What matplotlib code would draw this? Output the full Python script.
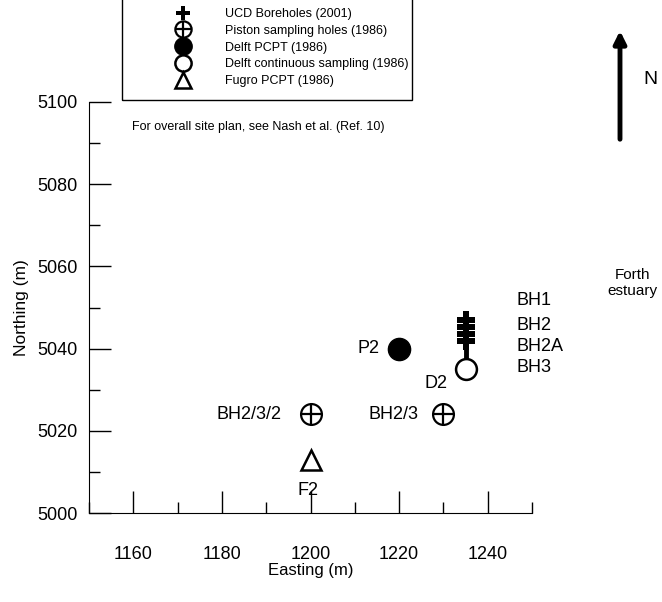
import matplotlib.pyplot as plt
from matplotlib.patches import Rectangle

plt.rcParams['font.family'] = ['Liberation Sans', 'DejaVu Sans']

# borehole / sounding locations (m)
ucd_x = [1235, 1235, 1235, 1235, 1235]
ucd_y = [5047, 5045.3, 5043.6, 5041.9, 5035]
piston_x = [1200, 1230]
piston_y = [5024, 5024]
piston_names = ['BH2/3/2', 'BH2/3']
pcpt_x = [1220]
pcpt_y = [5040]
pcpt_names = ['P2']
cont_x = [1235]
cont_y = [5035]
cont_names = ['D2']
fugro_x = [1200]
fugro_y = [5013]
fugro_names = ['F2']
ucd_names = ['BH1', 'BH2', 'BH2A', 'BH3']
ucd_label_y = [5051.8, 5045.7, 5040.4, 5035.3]

fig = plt.figure(figsize=(6.62, 6.02), dpi=100)
ax = fig.add_axes([89 / 662, 1 - 513 / 602, 443 / 662, 411 / 602])

# UCD boreholes: stem + thick crosses
ax.plot(ucd_x, ucd_y, '-', color='k', lw=3.5, zorder=2)
h_ucd, = ax.plot(ucd_x, ucd_y, 'P', mfc='k', mec='k', mew=0, ms=13, ls='none',
                 zorder=3, label='UCD Boreholes (2001)')
# piston holes: circle with cross
h_pc, = ax.plot(piston_x, piston_y, 'o', mfc='white', mec='k', mew=1.6, ms=15,
                ls='none', zorder=3)
h_pp, = ax.plot(piston_x, piston_y, '+', mec='k', mew=1.6, ms=15, ls='none', zorder=4)
h_pcpt, = ax.plot(pcpt_x, pcpt_y, 'o', color='k', ms=16, ls='none', zorder=3,
                  label='Delft PCPT (1986)')
h_cont, = ax.plot(cont_x, cont_y, 'o', mfc='white', mec='k', mew=1.8, ms=15,
                  ls='none', zorder=5, label='Delft continuous sampling (1986)')
h_fug, = ax.plot(fugro_x, fugro_y, '^', mfc='white', mec='k', mew=1.8, ms=14,
                 ls='none', zorder=3, label='Fugro PCPT (1986)')

# point labels
for name, yy in zip(ucd_names, ucd_label_y):
    ax.text(1246.4, yy, name, fontsize=13, va='center', ha='left')
ax.text(1193.5, piston_y[0], piston_names[0], fontsize=13, va='center', ha='right')
ax.text(1224.3, piston_y[1], piston_names[1], fontsize=13, va='center', ha='right')
ax.text(1215.5, pcpt_y[0], pcpt_names[0], fontsize=13, va='center', ha='right')
ax.text(1228.3, 5031.5, cont_names[0], fontsize=13, va='center', ha='center')
ax.text(1199.5, 5005.5, fugro_names[0], fontsize=13, va='center', ha='center')

ax.set_xlim(1150, 1250)
ax.set_ylim(5000, 5100)
ax.set_xticks([1160, 1180, 1200, 1220, 1240])
ax.set_xticks([1150, 1170, 1190, 1210, 1230, 1250], minor=True)
ax.set_yticks([5000, 5020, 5040, 5060, 5080, 5100])
ax.set_yticks([5010, 5030, 5050, 5070, 5090], minor=True)
ax.tick_params(which='both', direction='in', width=1, labelsize=13)
ax.tick_params(which='major', length=16)
ax.tick_params(which='minor', length=8)
ax.tick_params(axis='x', which='both', pad=24)
ax.tick_params(axis='y', which='both', pad=8)
for s in ['top', 'right']:
    ax.spines[s].set_visible(False)
ax.set_xlabel('Easting (m)', fontsize=12, labelpad=0)
ax.set_ylabel('Northing (m)', fontsize=12.5, labelpad=6)

# legend without its own frame, box drawn separately
leg = ax.legend([h_ucd, (h_pc, h_pp), h_pcpt, h_cont, h_fug],
                ['UCD Boreholes (2001)', 'Piston sampling holes (1986)',
                 'Delft PCPT (1986)', 'Delft continuous sampling (1986)',
                 'Fugro PCPT (1986)'],
                loc='upper left', bbox_to_anchor=(133 / 662, 1 - 8 / 602),
                bbox_transform=fig.transFigure, borderaxespad=0, borderpad=0,
                fontsize=9, frameon=False,
                handlelength=8, handletextpad=-0.64, labelspacing=0.38,
                markerscale=0.78, numpoints=1)
fig.add_artist(Rectangle((122 / 662, 1 - 100 / 602), 290 / 662, 110 / 602,
                         transform=fig.transFigure, fill=False, ec='k', lw=1))

fig.text(258 / 662, 1 - 127 / 602, 'For overall site plan, see Nash et al. (Ref. 10)',
         fontsize=9, ha='center', va='center')

# north arrow
ax.annotate('', xy=(620 / 662, 1 - 28 / 602), xytext=(620 / 662, 1 - 142 / 602),
            xycoords='figure fraction', textcoords='figure fraction',
            arrowprops=dict(arrowstyle='-|>', lw=3.5, color='k', mutation_scale=18))
fig.text(650 / 662, 1 - 80 / 602, 'N', fontsize=14, ha='center', va='center')
fig.text(632 / 662, 1 - 283 / 602, 'Forth\nestuary', fontsize=11, ha='center',
         va='center', linespacing=1.1)

fig.savefig('out.png', dpi=100)
